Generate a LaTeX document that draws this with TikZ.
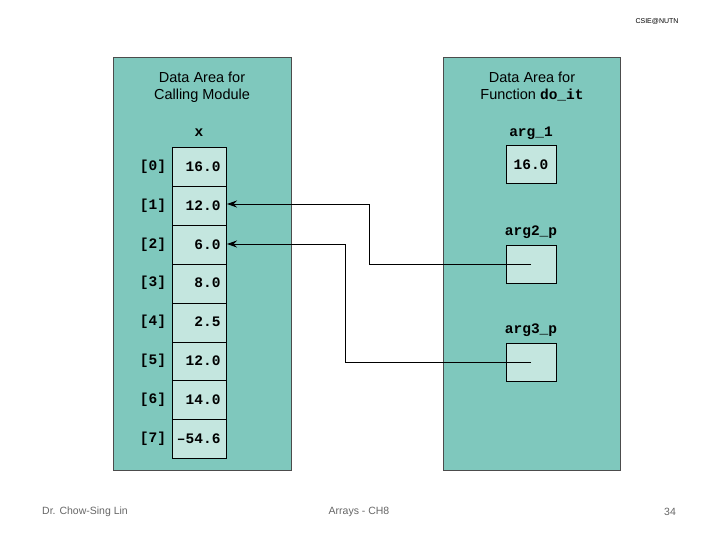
\documentclass[tikz,border=0pt]{standalone}
\usepackage{fontspec}
\setmainfont{Liberation Sans}
\newfontfamily\mono{Liberation Mono}
\usetikzlibrary{arrows.meta}
\definecolor{panel}{HTML}{7FC8BD}
\definecolor{cellc}{HTML}{C4E6DF}
\begin{document}
\begin{tikzpicture}[x=1pt,y=-1pt,
  pan/.style={draw=black!70,fill=panel,line width=0.8pt},
  cell/.style={draw=black,fill=cellc,line width=1pt,minimum width=54pt,minimum height=38.9pt,inner sep=0,anchor=north west,align=right},
  box/.style={draw=black,fill=cellc,line width=1pt,minimum width=50pt,minimum height=38pt,inner sep=0,anchor=north west},
  ttl/.style={font=\fontsize{14.5}{17}\selectfont,align=center},
  lab/.style={font=\mono\bfseries\fontsize{14.5}{16}\selectfont},
  foot/.style={font=\fontsize{10.5}{12}\selectfont,text=black!60},
  arr/.style={line width=0.9pt,-{Stealth[length=10pt,width=7pt]}}]
\useasboundingbox (0,0) rectangle (720,540);
\node[pan,minimum width=178pt,minimum height=413pt,anchor=north west,inner sep=0] (L) at (113,57) {};
\node[pan,minimum width=177pt,minimum height=413pt,anchor=north west,inner sep=0] (R) at (443,57) {};
\node[ttl] (tl) at (202,87) {Data Area for\\Calling Module};
\node[ttl] (tr) at (532,87) {Data Area for\\Function {\mono\bfseries do\_it}};
\node[lab] (xl) at (199,133) {x};
\foreach \i/\v in {0/16.0,1/12.0,2/6.0,3/8.0,4/2.5,5/12.0,6/14.0,7/{\textendash54.6}}{
  \node[cell] (c\i) at (172,147+38.9*\i) {};
  \node[lab,anchor=east] (v\i) at (224,147+38.9*\i+19.5) {\v};
  \node[lab] (i\i) at (153,147+38.9*\i+19.5) {[\i]};
}
\node[lab] (a1l) at (531,133) {arg\_1};
\node[box] (a1) at (506,145) {};
\node[lab] (a1v) at (531,165) {16.0};
\node[lab] (a2l) at (531,232) {arg2\_p};
\node[box] (a2) at (506,245) {};
\node[lab] (a3l) at (531,330) {arg3\_p};
\node[box] (a3) at (506,343) {};
\coordinate (p2) at (531,264);
\coordinate (p3) at (531,362);
\draw[arr] (p2) -- (369,264) -- (369,204) -- (c1.east|-0,204);
\draw[arr] (p3) -- (345,362) -- (345,244) -- (c2.east|-0,244);
\node[foot] (f1) at (85,512) {Dr. Chow-Sing Lin};
\node[foot] (f2) at (359,512) {Arrays - CH8};
\node[foot] (f3) at (670,512) {34};
\node[font=\fontsize{7}{8}\selectfont] (hd) at (657,21) {CSIE@NUTN};
\end{tikzpicture}
\end{document}
